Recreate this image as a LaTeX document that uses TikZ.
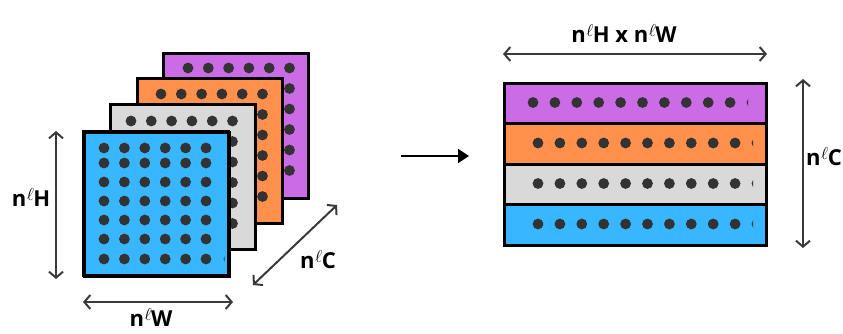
\documentclass[tikz,border=0pt]{standalone}
\usepackage{fontspec}
\setmainfont{Open Sans}
\usetikzlibrary{arrows.meta}
\definecolor{cblue}{HTML}{38B6FF}
\definecolor{cgray}{HTML}{D9D9D9}
\definecolor{corange}{HTML}{FF914D}
\definecolor{cpurple}{HTML}{CB6CE6}
\definecolor{cdot}{HTML}{333333}
\definecolor{carrow}{HTML}{3A3A3A}
\tikzset{
  layer/.style={draw=black, line width=3pt},
  dimarrow/.style={draw=carrow, line width=2pt, {Straight Barb[length=6pt,width=14pt]}-{Straight Barb[length=6pt,width=14pt]}},
  mainarrow/.style={draw=black, line width=2.2pt, -{Triangle[length=11pt,width=14pt]}},
  lbl/.style={font=\fontsize{22}{24}\selectfont\bfseries, inner sep=0pt, anchor=base},
  dotstyle/.style={fill=cdot}
}
\newcommand{\nl}{n\kern0.5pt\raisebox{6pt}{\fontsize{17}{17}\selectfont$\ell$}\kern-0.5pt}
\begin{document}
\begin{tikzpicture}[x=1pt,y=-1pt]
\useasboundingbox (0,0) rectangle (843,333);
% ---- left stack ----
\foreach \ox/\oy/\col/\dx/\dy in {163/53/cpurple/25/15, 137/78/corange/24/16, 110/104/cgray/21/17}{
  \fill[\col] (\ox,\oy) rectangle ++(145,145);
  \begin{scope}
    \clip (\ox,\oy) rectangle ++(145,145);
    \foreach \i in {0,...,5}{
      \foreach \j in {0,...,5}{
        \fill[dotstyle] (\ox+\dx+20.3*\i, \oy+\dy+20.5*\j) circle (5.4);
      }
    }
  \end{scope}
  \draw[layer] (\ox,\oy) rectangle ++(145,145);
}
\node[layer, fill=cblue, minimum width=145pt, minimum height=144pt, anchor=north west, inner sep=0pt] (blue) at (83,131) {};
\begin{scope}
  \clip (83,131) rectangle (224.5,275);
  \foreach \yy in {148,163,182,201,220,239,259}{
    \foreach \i in {0,...,5}{
      \fill[dotstyle] (104+20.4*\i,\yy) circle (5.4);
    }
  }
  \fill[dotstyle] (229,259) circle (5.4);
\end{scope}
\draw[layer] (83,131) rectangle (228,275);
% dimension arrows left
\coordinate (hT) at (56,131);
\coordinate (hB) at (56,279);
\draw[dimarrow] (hT) -- (hB);
\node[lbl] (lH) at (31,206) {\nl H};
\coordinate (wL) at (83,302);
\coordinate (wR) at (233,302);
\draw[dimarrow] (wL) -- (wR);
\node[lbl] (lW) at (151,326) {\nl W};
\coordinate (cA) at (253,285);
\coordinate (cB) at (337,205);
\draw[dimarrow] (cA) -- (cB);
\node[lbl] (lC) at (318,268) {\nl C};
% middle arrow
\coordinate (mA) at (401,156);
\coordinate (mB) at (469,156);
\draw[mainarrow] (mA) -- (mB);
% ---- right stack ----
\foreach \name/\col/\yt/\dxs in {rp/cpurple/83/533, ro/corange/123.5/538, rg/cgray/164/538, rb/cblue/204.5/538}{
  \node[fill=\col, minimum width=262pt, minimum height=40.5pt, inner sep=0pt, anchor=north west] (\name) at (504,\yt) {};
  \begin{scope}
    \clip (504,\yt) rectangle (\dxs+21.9*10-4, \yt+40.5);
    \foreach \i in {0,...,10}{
      \fill[dotstyle] (\dxs+21.9*\i, \yt+19.5) circle (5.4);
    }
  \end{scope}
  \draw[layer] (504,\yt) rectangle (766,\yt+40.5);
}
\coordinate (tL) at (503,54);
\coordinate (tR) at (767,54);
\draw[dimarrow] (tL) -- (tR);
\node[lbl] (lHW) at (624,42) {\nl H x \nl W};
\coordinate (rT) at (803,79);
\coordinate (rB) at (803,248);
\draw[dimarrow] (rT) -- (rB);
\node[lbl, anchor=base east] (lC2) at (842,165) {\nl C};
\end{tikzpicture}
\end{document}
